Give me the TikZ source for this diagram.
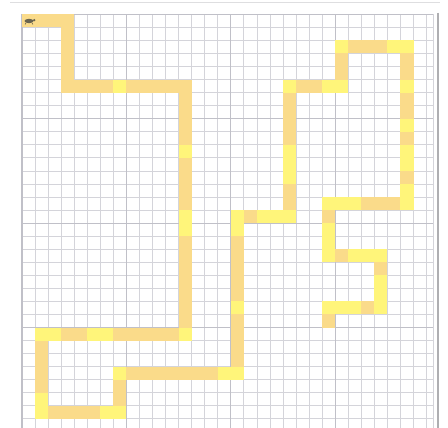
\documentclass[tikz,border=0pt]{standalone}
\usepackage{tikz}
\definecolor{cellO}{RGB}{250,219,138}
\definecolor{cellB}{RGB}{255,245,122}
\definecolor{gridminor}{RGB}{212,212,218}
\definecolor{gridmajor}{RGB}{192,192,200}
\definecolor{frameline}{RGB}{175,175,178}
\definecolor{sepline}{RGB}{222,222,224}
\definecolor{iconcol}{RGB}{105,100,80}
\def\gs{13.05}
\def\gx{22}
\def\gy{14.3}
\tikzset{
  ocell/.style={fill=cellO},
  bcell/.style={fill=cellB},
  minorline/.style={draw=gridminor,line width=0.75pt},
  majorline/.style={draw=gridmajor,line width=1.2pt},
  frame/.style={draw=frameline,line width=1.5pt},
  sep/.style={draw=sepline,line width=1pt},
}
\begin{document}
\begin{tikzpicture}[x=1pt,y=-1pt]
\useasboundingbox (0,0) rectangle (448,428);
\fill[white] (0,0) rectangle (448,428);
% separator line on top
\draw[sep] (10,3) -- (440,3);
% grid
\foreach \k in {1,...,31} {
  \draw[minorline] ({\gx+\k*\gs},\gy) -- ({\gx+\k*\gs},428);
}
\foreach \k in {1,...,32} {
  \draw[minorline] (\gx,{\gy+\k*\gs}) -- (433,{\gy+\k*\gs});
}
\draw[minorline] (433,\gy) -- (433,428);
\foreach \k in {8,16,24} {
  \draw[majorline] ({\gx+\k*\gs},\gy) -- ({\gx+\k*\gs},428);
  \draw[majorline] (\gx,{\gy+\k*\gs}) -- (433,{\gy+\k*\gs});
}
\draw[majorline] (\gx,428) -- (\gx,\gy) -- (433,\gy);
% path cells, orange
\foreach \c/\r in {0/0,1/0,2/0,3/0,3/1,3/2,3/3,3/4,3/5,
  4/5,5/5,6/5,8/5,9/5,10/5,11/5,12/5,
  12/6,12/7,12/8,12/9,12/11,12/12,12/13,12/14,
  12/17,12/18,12/19,12/20,12/21,12/22,12/23,
  7/24,8/24,9/24,10/24,11/24,3/24,4/24,
  1/25,1/26,1/27,1/28,
  2/30,3/30,4/30,5/30,
  7/28,7/29,
  8/27,9/27,10/27,11/27,12/27,13/27,14/27,
  16/23,16/24,16/25,16/26,16/17,16/18,16/19,16/20,16/21,
  17/15,20/13,20/14,20/6,20/7,20/8,20/9,
  21/5,22/5,24/3,24/4,25/2,26/2,27/2,
  29/3,29/4,29/6,29/7,29/9,29/12,
  26/14,27/14,28/14,23/15,24/18,27/19,26/22,23/23} {
  \fill[ocell] ({\gx+\c*\gs},{\gy+\r*\gs}) rectangle +(\gs,\gs);
}
% path cells, bright yellow
\foreach \c/\r in {7/5,12/10,12/15,12/16,12/24,6/24,5/24,2/24,1/24,
  1/29,1/30,6/30,7/30,7/27,15/27,16/27,16/22,16/15,16/16,
  18/15,19/15,20/15,20/10,20/11,20/12,20/5,23/5,24/5,24/2,
  28/2,29/2,29/5,29/8,29/10,29/11,29/13,29/14,
  25/14,24/14,23/14,23/16,23/17,23/18,25/18,26/18,27/18,
  27/20,27/21,27/22,25/22,24/22,23/22} {
  \fill[bcell] ({\gx+\c*\gs},{\gy+\r*\gs}) rectangle +(\gs,\gs);
}
% small icon in the start cell
\fill[iconcol] (29,21) ellipse [x radius=4.5pt, y radius=2.2pt];
\fill[iconcol] (34.2,20.2) circle [radius=1.3pt];
\draw[iconcol,line width=0.6pt] (26,23) -- (25,24.5) (32,23) -- (33,24.5);
% right frame line
\draw[frame] (438,13) -- (438,428);
\end{tikzpicture}
\end{document}
